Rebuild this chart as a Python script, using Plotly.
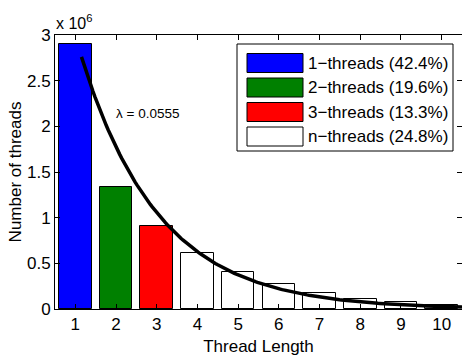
import numpy as np
import plotly.graph_objects as go

# Thread-length histogram (counts) with an exponential fit
thread_lengths = [1, 2, 3, 4, 5, 6, 7, 8, 9, 10]
thread_counts = [2.90e6, 1.34e6, 0.91e6, 0.61e6, 0.41e6, 0.27e6, 0.175e6, 0.11e6, 0.075e6, 0.045e6]
bar_colors = ["#0000ff", "#008000", "#ff0000"] + ["#ffffff"] * 7

legend_labels = ["1−threads (42.4%)", "2−threads (19.6%)", "3−threads (13.3%)", "n−threads (24.8%)"]
legend_colors = ["#0000ff", "#008000", "#ff0000", "#ffffff"]

y_tick_vals = [0, 0.5e6, 1.0e6, 1.5e6, 2.0e6, 2.5e6, 3.0e6]
y_tick_text = ["0", "0.5", "1", "1.5", "2", "2.5", "3"]

# fitted exponential decay
fit_label = "λ = 0.0555"
fit_start, fit_end = 1.15, 10.5
fit_peak = 2.76e6
fit_rate = 0.52

FONT = "Liberation Sans, Arial, Helvetica, sans-serif"
W, H = 462, 356
ML, MR, MT, MB = 55, 0, 35, 47
PW, PH = W - ML - MR, H - MT - MB


def px(x):
    return (x - ML) / PW


def py(y):
    return (H - MB - y) / PH


fit_x = np.linspace(fit_start, fit_end, 200)
fit_y = fit_peak * np.exp(-fit_rate * (fit_x - fit_start))

fig = go.Figure()
fig.add_trace(go.Bar(
    x=thread_lengths, y=thread_counts, width=0.8,
    marker=dict(color=bar_colors, line=dict(color="#000000", width=1)),
    showlegend=False,
))
fig.add_trace(go.Scatter(
    x=fit_x, y=fit_y, mode="lines",
    line=dict(color="#000000", width=3.5), showlegend=False,
))

# legend box drawn in paper coordinates
shapes = []
annotations = []
box_l, box_r, box_t, box_b = 237, 453, 44, 151
shapes.append(dict(type="rect", xref="paper", yref="paper",
                   x0=px(box_l), x1=px(box_r), y0=py(box_b), y1=py(box_t),
                   line=dict(color="#000000", width=1), fillcolor="#ffffff", layer="above"))
row0, row_step = 63, 24.5
for i, (lab, col) in enumerate(zip(legend_labels, legend_colors)):
    cy = row0 + i * row_step
    shapes.append(dict(type="rect", xref="paper", yref="paper",
                       x0=px(247), x1=px(303), y0=py(cy + 9.5), y1=py(cy - 9.5),
                       line=dict(color="#000000", width=1), fillcolor=col, layer="above"))
    annotations.append(dict(xref="paper", yref="paper", x=px(306), y=py(cy),
                            text=lab, showarrow=False, xanchor="left", yanchor="middle",
                            font=dict(family=FONT, size=17, color="#000000")))

annotations.append(dict(xref="paper", yref="paper", x=px(54), y=py(22),
                        text="x 10<sup>6</sup>", showarrow=False, xanchor="left", yanchor="middle",
                        font=dict(family=FONT, size=16, color="#000000")))
annotations.append(dict(xref="paper", yref="paper", x=px(114), y=py(113),
                        text=fit_label, showarrow=False, xanchor="left", yanchor="middle",
                        font=dict(family=FONT, size=13.5, color="#000000")))

axis_common = dict(showline=True, linecolor="#000000", linewidth=1, mirror="ticks",
                   ticks="inside", ticklen=5, tickcolor="#000000", showgrid=False,
                   zeroline=False, tickfont=dict(family=FONT, size=17, color="#000000"))

fig.update_layout(
    width=W, height=H,
    margin=dict(l=ML, r=MR, t=MT, b=MB),
    paper_bgcolor="#ffffff", plot_bgcolor="#ffffff",
    bargap=0,
    shapes=shapes, annotations=annotations,
    xaxis=dict(range=[0.5, 10.5], tickvals=thread_lengths,
               title=dict(text="Thread Length", standoff=6,
                          font=dict(family=FONT, size=17, color="#000000")),
               **axis_common),
    yaxis=dict(range=[0, 3e6], tickvals=y_tick_vals, ticktext=y_tick_text,
               title=dict(text="Number of threads", standoff=1,
                          font=dict(family=FONT, size=17, color="#000000")),
               **axis_common),
)

fig.write_html("out.html")
